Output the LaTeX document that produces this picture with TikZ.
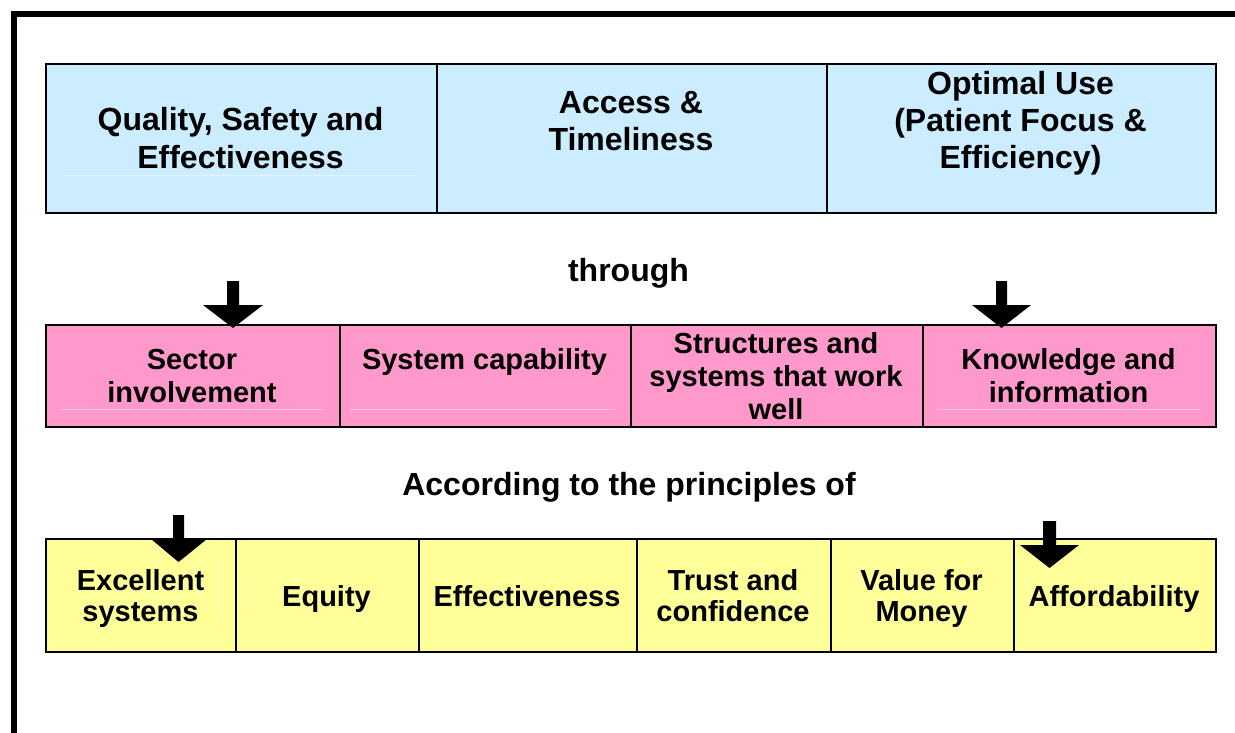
\documentclass[tikz,border=0pt]{standalone}
\usepackage{fontspec}
\setmainfont{Liberation Sans}
\begin{document}
\begin{tikzpicture}[x=1pt,y=-1pt,
  cell/.style={draw=black,line width=2pt,inner sep=0pt,anchor=north west},
  bluecell/.style={cell,fill=cellblue},
  pinkcell/.style={cell,fill=cellpink},
  yellowcell/.style={cell,fill=cellyellow},
  % multi-line labels are placed by the baseline of their last line
  bigtxt/.style={anchor=base,align=center,inner sep=0pt,font=\bfseries\fontsize{32}{37}\selectfont},
  pinktxt/.style={anchor=base,align=center,inner sep=0pt,font=\bfseries\fontsize{29}{33}\selectfont},
  yellowtxt/.style={anchor=base,align=center,inner sep=0pt,font=\bfseries\fontsize{29}{31}\selectfont},
  blockarrow/.style={fill=black,draw=none},
  faint/.style={line width=0.8pt}
]
\definecolor{cellblue}{HTML}{CCECFF}
\definecolor{cellpink}{HTML}{FF99CC}
\definecolor{cellyellow}{HTML}{FFFF99}
\useasboundingbox (0,0) rectangle (1235,733);
\fill[white] (0,0) rectangle (1235,733);

% page frame (top and left edges)
\draw[line width=5.6pt,line join=miter] (13.8,733) -- (13.8,13.8) -- (1235,13.8);

% ---- goals row ----
\node[bluecell,minimum width=391pt,minimum height=149pt] (g1) at (45,63) {};
\node[bluecell,minimum width=390pt,minimum height=149pt] (g2) at (436,63) {};
\node[bluecell,minimum width=389pt,minimum height=149pt] (g3) at (826,63) {};
\draw[faint,color=cellblue!60!white] (60,175) -- (421,175);
\node[bigtxt] (tg1) at (240.5,168) {Quality, Safety and\\Effectiveness};
\node[bigtxt] (tg2) at (631,150.5) {Access \&\\Timeliness};
\node[bigtxt] (tg3) at (1020.5,168.5) {Optimal Use\\(Patient Focus \&\\Efficiency)};

\node[bigtxt] (through) at (628.5,281.5) {through};

% ---- means row ----
\node[pinkcell,minimum width=294pt,minimum height=102pt] (m1) at (45,324) {};
\node[pinkcell,minimum width=291pt,minimum height=102pt] (m2) at (339,324) {};
\node[pinkcell,minimum width=292pt,minimum height=102pt] (m3) at (630,324) {};
\node[pinkcell,minimum width=293pt,minimum height=102pt] (m4) at (922,324) {};
\draw[faint,color=cellpink!55!white] (60,409) -- (324,409);
\draw[faint,color=cellpink!55!white] (350,409) -- (616,409);
\draw[faint,color=cellpink!55!white] (937,409) -- (1200,409);
\node[pinktxt] (tm1) at (192,402.5) {Sector\\involvement};
\node[pinktxt] (tm2) at (484.5,369.5) {System capability};
\node[pinktxt] (tm3) at (776,419.5) {Structures and\\systems that work\\well};
\node[pinktxt] (tm4) at (1068.5,402.5) {Knowledge and\\information};

\node[bigtxt] (principles) at (629,495.5) {According to the principles of};

% ---- principles row ----
\node[yellowcell,minimum width=190pt,minimum height=113pt] (p1) at (45,538) {};
\node[yellowcell,minimum width=183pt,minimum height=113pt] (p2) at (235,538) {};
\node[yellowcell,minimum width=218pt,minimum height=113pt] (p3) at (418,538) {};
\node[yellowcell,minimum width=194pt,minimum height=113pt] (p4) at (636,538) {};
\node[yellowcell,minimum width=183pt,minimum height=113pt] (p5) at (830,538) {};
\node[yellowcell,minimum width=202pt,minimum height=113pt] (p6) at (1013,538) {};
\draw[faint,color=cellyellow!55!white] (221.7,561) -- (221.7,628);
\draw[faint,color=cellyellow!55!white] (249.3,578) -- (249.3,611);
\draw[faint,color=cellyellow!55!white] (1028,578) -- (1028,612);
\node[yellowtxt] (tp1) at (140.5,621) {Excellent\\systems};
\node[yellowtxt] (tp2) at (326.5,606) {Equity};
\node[yellowtxt] (tp3) at (527,606) {Effectiveness};
\node[yellowtxt] (tp4) at (733,621) {Trust and\\confidence};
\node[yellowtxt] (tp5) at (921.5,621) {Value for\\Money};
\node[yellowtxt] (tp6) at (1114,606) {Affordability};

% ---- block arrows ----
\fill[blockarrow] (227,281) -- (239,281) -- (239,305) -- (263,305) -- (233,328)
  -- (203,305) -- (227,305) -- cycle;
\fill[blockarrow] (996,281) -- (1007,281) -- (1007,305) -- (1031,305) -- (1001.5,328)
  -- (972,305) -- (996,305) -- cycle;
\fill[blockarrow] (173,515) -- (184,515) -- (184,539) -- (207,539) -- (178.5,562)
  -- (151,539) -- (173,539) -- cycle;
\fill[blockarrow] (1043,521) -- (1056,521) -- (1056,545) -- (1079,545) -- (1049.5,568)
  -- (1020,545) -- (1043,545) -- cycle;
\end{tikzpicture}
\end{document}
